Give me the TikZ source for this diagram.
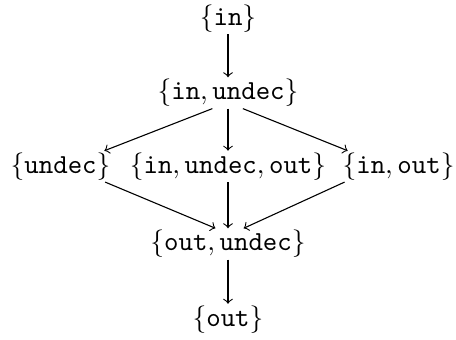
\documentclass[tikz,border=0pt]{standalone}
\usepackage{amsmath}

\begin{document}
\begin{tikzpicture}[setnode/.style={inner sep=0.5pt}]

    % Fix the frame so the margins match
    \useasboundingbox (-2.914, -4.109) rectangle (2.914, 0.236);

    % Place the sets row by row
    \node[setnode] (in) at (0, 0) {$\{\mathtt{in}\}$};
    \node[setnode] (inundec) at (0, -0.952) {$\{\mathtt{in},\mathtt{undec}\}$};
    \node[setnode] (undec) at (-2.14, -1.891) {$\{\mathtt{undec}\}$};
    \node[setnode] (inundecout) at (0, -1.891) {$\{\mathtt{in},\mathtt{undec},\mathtt{out}\}$};
    \node[setnode] (inout) at (2.18, -1.891) {$\{\mathtt{in},\mathtt{out}\}$};
    \node[setnode] (outundec) at (0, -2.882) {$\{\mathtt{out},\mathtt{undec}\}$};
    \node[setnode] (out) at (0, -3.847) {$\{\mathtt{out}\}$};

    % Top chain
    \draw[->] (in.south) -- (inundec.north);

    % Fan out from {in,undec}
    \draw[->] ([xshift=-0.2cm]inundec.south) -- ([xshift=0.56cm]undec.north);
    \draw[->] (inundec.south) -- (inundecout.north);
    \draw[->] ([xshift=0.19cm]inundec.south) -- ([xshift=-0.65cm]inout.north);

    % Fan in to {out,undec}
    \draw[->] ([xshift=0.57cm]undec.south) -- ([xshift=-0.16cm]outundec.north);
    \draw[->] (inundecout.south) -- (outundec.north);
    \draw[->] ([xshift=-0.69cm]inout.south) -- ([xshift=0.2cm]outundec.north);

    % Bottom chain
    \draw[->] (outundec.south) -- (out.north);

\end{tikzpicture}
\end{document}
